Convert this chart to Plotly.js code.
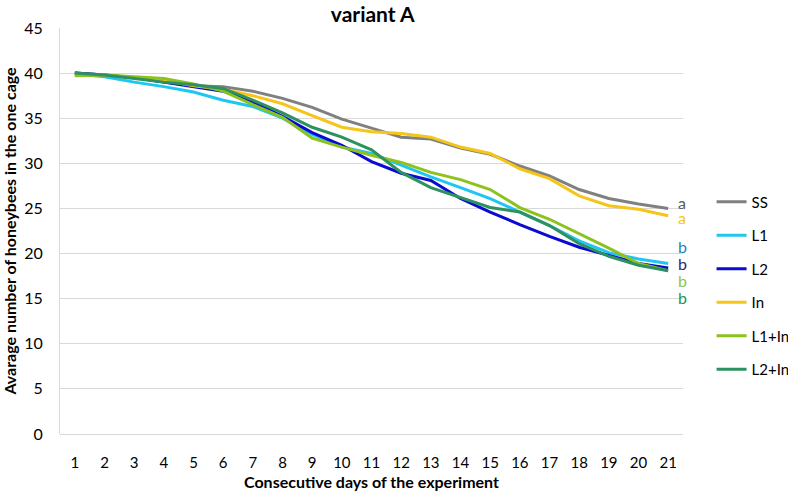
<!DOCTYPE html>
<html>
<head>
<meta charset="utf-8">
<script src="https://cdn.plot.ly/plotly-3.0.1.min.js"></script>
<style>html,body{margin:0;padding:0;background:#fff;}#chart{width:788px;height:500px;}</style>
</head>
<body>
<div id="chart"></div>
<script>
var days = [1,2,3,4,5,6,7,8,9,10,11,12,13,14,15,16,17,18,19,20,21];
var seriesNames = ["SS","L1","L2","In","L1+In","L2+In"];
var SS    = [40.0,39.8,39.5,39.0,38.6,38.5,38.0,37.2,36.2,34.9,33.9,32.9,32.7,31.7,31.0,29.7,28.6,27.1,26.1,25.5,25.0];
var L1    = [39.9,39.6,39.0,38.5,37.9,37.0,36.3,35.0,33.2,31.8,31.1,29.8,28.5,27.3,26.1,24.6,23.1,21.4,20.1,19.4,18.9];
var L2    = [40.0,39.8,39.5,39.0,38.5,38.0,36.8,35.2,33.4,32.0,30.2,28.9,28.1,26.1,24.6,23.2,21.9,20.7,19.8,18.9,18.4];
var In    = [39.8,39.8,39.5,39.2,38.6,38.2,37.5,36.6,35.3,34.0,33.5,33.3,32.9,31.8,31.1,29.4,28.3,26.4,25.3,24.9,24.2];
var L1In  = [39.7,39.8,39.6,39.4,38.8,38.0,36.5,35.1,32.8,31.8,30.9,30.1,29.0,28.2,27.1,25.1,23.8,22.2,20.6,18.9,18.1];
var L2In  = [40.0,39.8,39.4,39.0,38.7,38.3,37.0,35.6,34.0,32.9,31.5,29.0,27.3,26.2,25.1,24.6,23.1,21.1,19.7,18.7,18.1];
var colors = ["#808080","#1fc6f0","#0a0ad0","#f5c518","#8cc21e","#2e9160"];
var letters = ["a","a","b","b","b","b"];
var letterColors = ["#595959","#f5c518","#1f7fc0","#2b2670","#8dc63f","#1a9850"];
var letterY = [25.7, 24.0, 20.8, 18.9, 17.0, 15.1];

var allData = [SS, L1, L2, In, L1In, L2In];
var traces = allData.map(function(vals, i){
  return {x: days, y: vals, type: "scatter", mode: "lines", name: seriesNames[i],
    legendgroup: "g"+i, line: {color: colors[i], width: 3}};
});
var annotations = letters.map(function(t, i){
  return {x: 21, y: letterY[i], xref: "x", yref: "y", text: t, showarrow: false,
    xanchor: "left", xshift: 9, borderpad: 0, height: 13, valign: "middle",
    font: {family: "Lato, 'Open Sans', sans-serif", size: 16, color: letterColors[i]}};
});
var layout = {
  width: 788, height: 500,
  margin: {l: 60, r: 105, t: 28, b: 66, autoexpand: false},
  paper_bgcolor: "#fff", plot_bgcolor: "#fff",
  font: {family: "Lato, 'Open Sans', sans-serif", size: 15, color: "#000"},
  title: {text: "<b>variant A</b>", x: 0.473, xanchor: "center", y: 0.97, yanchor: "middle", font: {size: 21, color: "#000"}},
  xaxis: {range: [0.5, 21.5], tickvals: days, ticktext: days.map(String), showgrid: false, zeroline: false,
    showline: false, ticks: "", tickfont: {size: 15}, ticklabelstandoff: 18,
    title: {text: "<b>Consecutive days of the experiment</b>", font: {size: 16}, standoff: 6}},
  yaxis: {range: [0, 45], dtick: 5, showgrid: true, gridcolor: "#d9d9d9", gridwidth: 1, zeroline: true,
    zerolinecolor: "#d9d9d9", zerolinewidth: 1, showline: true, linecolor: "#d9d9d9", linewidth: 1,
    ticks: "", tickfont: {size: 16}, ticklabelstandoff: 13,
    title: {text: "<b>Avarage number of honeybees in the one cage</b>", font: {size: 16}, standoff: 8}},
  legend: {xref: "container", yref: "container", x: 0.903, y: 0.629, xanchor: "left", yanchor: "top",
    traceorder: "grouped", tracegroupgap: 11, itemwidth: 30,
    font: {size: 15}, bgcolor: "rgba(0,0,0,0)"},
  annotations: annotations,
  showlegend: true
};
Plotly.newPlot("chart", traces, layout, {displayModeBar: false, staticPlot: true});
</script>
</body>
</html>
